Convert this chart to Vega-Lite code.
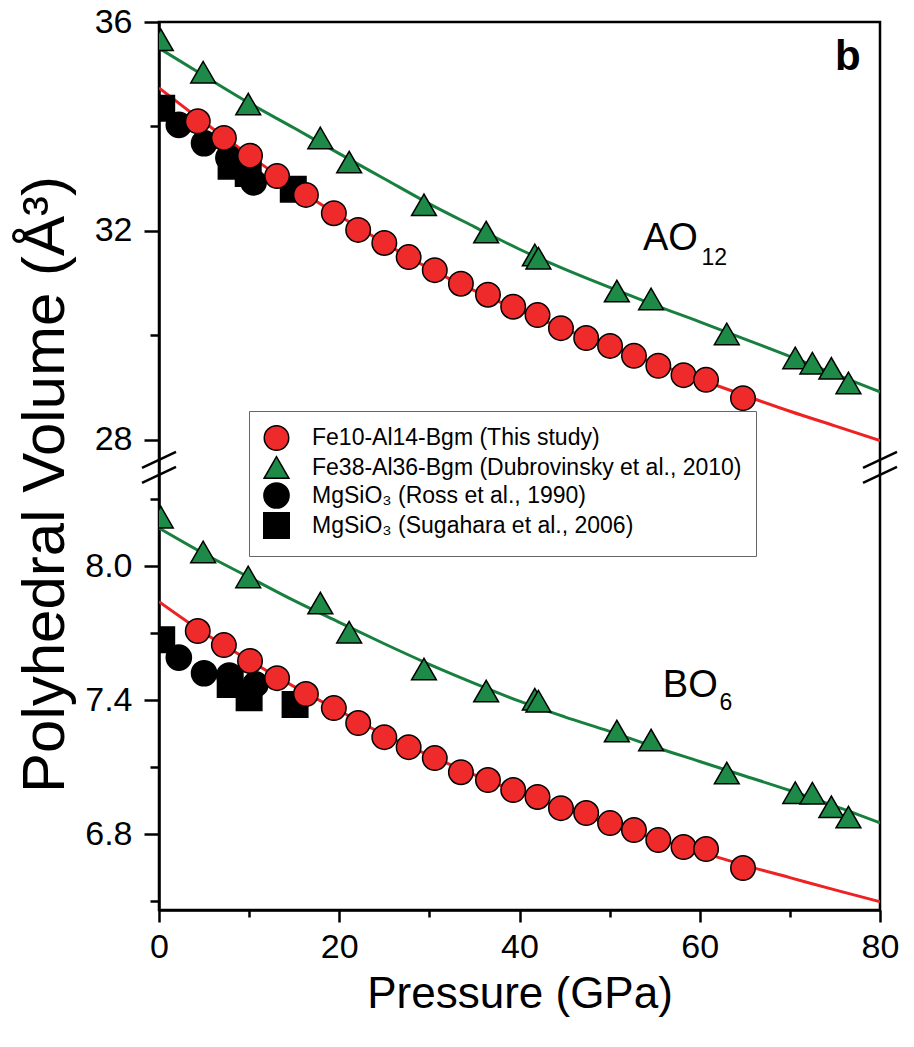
{
  "$schema": "https://vega.github.io/schema/vega-lite/v6.json",
  "width": 721,
  "height": 888,
  "autosize": {"type": "none"},
  "padding": {"left": 159, "top": 22, "right": 34, "bottom": 137},
  "background": "white",
  "config": {
    "font": "Liberation Sans",
    "view": {"stroke": "black", "strokeWidth": 2.5},
    "axis": {"domainColor": "black", "domainWidth": 2.5, "tickColor": "black", "tickWidth": 2.5, "labelColor": "black", "titleColor": "black", "labelFont": "Liberation Sans", "titleFont": "Liberation Sans", "grid": false, "titleFontWeight": "normal", "labelFlush": false},
    "legend": {"title": null, "orient": "none", "legendX": 90, "legendY": 389, "padding": 14, "strokeColor": "#666666", "fillColor": "white", "labelFontSize": 23, "labelFont": "Liberation Sans", "labelColor": "black", "labelOffset": 22, "rowPadding": -3, "symbolStrokeColor": "black", "symbolStrokeWidth": 1.5, "labelLimit": 600}
  },
  "datasets": {
    "points": [
      {"s": "MgSiO₃ (Ross et al., 1990)", "P": 2.2, "V": 34.03},
      {"s": "MgSiO₃ (Ross et al., 1990)", "P": 5.0, "V": 33.68},
      {"s": "MgSiO₃ (Ross et al., 1990)", "P": 7.7, "V": 33.40},
      {"s": "MgSiO₃ (Ross et al., 1990)", "P": 10.5, "V": 32.93},
      {"s": "MgSiO₃ (Ross et al., 1990)", "P": 2.2, "V": 7.59},
      {"s": "MgSiO₃ (Ross et al., 1990)", "P": 5.0, "V": 7.52},
      {"s": "MgSiO₃ (Ross et al., 1990)", "P": 7.8, "V": 7.51},
      {"s": "MgSiO₃ (Ross et al., 1990)", "P": 10.7, "V": 7.47},
      {"s": "MgSiO₃ (Sugahara et al., 2006)", "P": 0.3, "V": 34.35},
      {"s": "MgSiO₃ (Sugahara et al., 2006)", "P": 8.0, "V": 33.24},
      {"s": "MgSiO₃ (Sugahara et al., 2006)", "P": 9.9, "V": 33.10},
      {"s": "MgSiO₃ (Sugahara et al., 2006)", "P": 14.9, "V": 32.80},
      {"s": "MgSiO₃ (Sugahara et al., 2006)", "P": 0.3, "V": 7.67},
      {"s": "MgSiO₃ (Sugahara et al., 2006)", "P": 7.9, "V": 7.47},
      {"s": "MgSiO₃ (Sugahara et al., 2006)", "P": 10.0, "V": 7.41},
      {"s": "MgSiO₃ (Sugahara et al., 2006)", "P": 15.1, "V": 7.38},
      {"s": "Fe38-Al36-Bgm (Dubrovinsky et al., 2010)", "P": 0.2, "V": 35.66},
      {"s": "Fe38-Al36-Bgm (Dubrovinsky et al., 2010)", "P": 4.9, "V": 35.04},
      {"s": "Fe38-Al36-Bgm (Dubrovinsky et al., 2010)", "P": 9.9, "V": 34.43},
      {"s": "Fe38-Al36-Bgm (Dubrovinsky et al., 2010)", "P": 17.9, "V": 33.78},
      {"s": "Fe38-Al36-Bgm (Dubrovinsky et al., 2010)", "P": 21.1, "V": 33.32},
      {"s": "Fe38-Al36-Bgm (Dubrovinsky et al., 2010)", "P": 29.4, "V": 32.50},
      {"s": "Fe38-Al36-Bgm (Dubrovinsky et al., 2010)", "P": 36.3, "V": 31.98},
      {"s": "Fe38-Al36-Bgm (Dubrovinsky et al., 2010)", "P": 41.7, "V": 31.54},
      {"s": "Fe38-Al36-Bgm (Dubrovinsky et al., 2010)", "P": 42.1, "V": 31.48},
      {"s": "Fe38-Al36-Bgm (Dubrovinsky et al., 2010)", "P": 50.8, "V": 30.85},
      {"s": "Fe38-Al36-Bgm (Dubrovinsky et al., 2010)", "P": 54.6, "V": 30.70},
      {"s": "Fe38-Al36-Bgm (Dubrovinsky et al., 2010)", "P": 63.0, "V": 30.03},
      {"s": "Fe38-Al36-Bgm (Dubrovinsky et al., 2010)", "P": 70.6, "V": 29.57},
      {"s": "Fe38-Al36-Bgm (Dubrovinsky et al., 2010)", "P": 72.5, "V": 29.47},
      {"s": "Fe38-Al36-Bgm (Dubrovinsky et al., 2010)", "P": 74.6, "V": 29.37},
      {"s": "Fe38-Al36-Bgm (Dubrovinsky et al., 2010)", "P": 76.5, "V": 29.09},
      {"s": "Fe38-Al36-Bgm (Dubrovinsky et al., 2010)", "P": 0.2, "V": 8.219},
      {"s": "Fe38-Al36-Bgm (Dubrovinsky et al., 2010)", "P": 4.9, "V": 8.063},
      {"s": "Fe38-Al36-Bgm (Dubrovinsky et al., 2010)", "P": 9.9, "V": 7.951},
      {"s": "Fe38-Al36-Bgm (Dubrovinsky et al., 2010)", "P": 17.9, "V": 7.834},
      {"s": "Fe38-Al36-Bgm (Dubrovinsky et al., 2010)", "P": 21.1, "V": 7.704},
      {"s": "Fe38-Al36-Bgm (Dubrovinsky et al., 2010)", "P": 29.4, "V": 7.539},
      {"s": "Fe38-Al36-Bgm (Dubrovinsky et al., 2010)", "P": 36.3, "V": 7.440},
      {"s": "Fe38-Al36-Bgm (Dubrovinsky et al., 2010)", "P": 41.7, "V": 7.404},
      {"s": "Fe38-Al36-Bgm (Dubrovinsky et al., 2010)", "P": 42.1, "V": 7.395},
      {"s": "Fe38-Al36-Bgm (Dubrovinsky et al., 2010)", "P": 50.8, "V": 7.261},
      {"s": "Fe38-Al36-Bgm (Dubrovinsky et al., 2010)", "P": 54.6, "V": 7.221},
      {"s": "Fe38-Al36-Bgm (Dubrovinsky et al., 2010)", "P": 63.0, "V": 7.073},
      {"s": "Fe38-Al36-Bgm (Dubrovinsky et al., 2010)", "P": 70.6, "V": 6.985},
      {"s": "Fe38-Al36-Bgm (Dubrovinsky et al., 2010)", "P": 72.5, "V": 6.983},
      {"s": "Fe38-Al36-Bgm (Dubrovinsky et al., 2010)", "P": 74.6, "V": 6.922},
      {"s": "Fe38-Al36-Bgm (Dubrovinsky et al., 2010)", "P": 76.5, "V": 6.876},
      {"s": "Fe10-Al14-Bgm (This study)", "P": 4.3, "V": 34.10},
      {"s": "Fe10-Al14-Bgm (This study)", "P": 7.2, "V": 33.78},
      {"s": "Fe10-Al14-Bgm (This study)", "P": 10.1, "V": 33.44},
      {"s": "Fe10-Al14-Bgm (This study)", "P": 13.1, "V": 33.05},
      {"s": "Fe10-Al14-Bgm (This study)", "P": 16.3, "V": 32.69},
      {"s": "Fe10-Al14-Bgm (This study)", "P": 19.4, "V": 32.34},
      {"s": "Fe10-Al14-Bgm (This study)", "P": 22.1, "V": 32.02},
      {"s": "Fe10-Al14-Bgm (This study)", "P": 25.0, "V": 31.77},
      {"s": "Fe10-Al14-Bgm (This study)", "P": 27.7, "V": 31.50},
      {"s": "Fe10-Al14-Bgm (This study)", "P": 30.6, "V": 31.25},
      {"s": "Fe10-Al14-Bgm (This study)", "P": 33.5, "V": 30.99},
      {"s": "Fe10-Al14-Bgm (This study)", "P": 36.5, "V": 30.78},
      {"s": "Fe10-Al14-Bgm (This study)", "P": 39.3, "V": 30.55},
      {"s": "Fe10-Al14-Bgm (This study)", "P": 42.0, "V": 30.39},
      {"s": "Fe10-Al14-Bgm (This study)", "P": 44.6, "V": 30.14},
      {"s": "Fe10-Al14-Bgm (This study)", "P": 47.4, "V": 29.95},
      {"s": "Fe10-Al14-Bgm (This study)", "P": 50.05, "V": 29.80},
      {"s": "Fe10-Al14-Bgm (This study)", "P": 52.7, "V": 29.61},
      {"s": "Fe10-Al14-Bgm (This study)", "P": 55.4, "V": 29.42},
      {"s": "Fe10-Al14-Bgm (This study)", "P": 58.2, "V": 29.24},
      {"s": "Fe10-Al14-Bgm (This study)", "P": 60.7, "V": 29.15},
      {"s": "Fe10-Al14-Bgm (This study)", "P": 64.8, "V": 28.80},
      {"s": "Fe10-Al14-Bgm (This study)", "P": 4.3, "V": 7.709},
      {"s": "Fe10-Al14-Bgm (This study)", "P": 7.2, "V": 7.646},
      {"s": "Fe10-Al14-Bgm (This study)", "P": 10.1, "V": 7.575},
      {"s": "Fe10-Al14-Bgm (This study)", "P": 13.1, "V": 7.498},
      {"s": "Fe10-Al14-Bgm (This study)", "P": 16.3, "V": 7.427},
      {"s": "Fe10-Al14-Bgm (This study)", "P": 19.4, "V": 7.364},
      {"s": "Fe10-Al14-Bgm (This study)", "P": 22.1, "V": 7.297},
      {"s": "Fe10-Al14-Bgm (This study)", "P": 25.0, "V": 7.234},
      {"s": "Fe10-Al14-Bgm (This study)", "P": 27.7, "V": 7.189},
      {"s": "Fe10-Al14-Bgm (This study)", "P": 30.6, "V": 7.140},
      {"s": "Fe10-Al14-Bgm (This study)", "P": 33.5, "V": 7.077},
      {"s": "Fe10-Al14-Bgm (This study)", "P": 36.5, "V": 7.042},
      {"s": "Fe10-Al14-Bgm (This study)", "P": 39.3, "V": 6.997},
      {"s": "Fe10-Al14-Bgm (This study)", "P": 42.0, "V": 6.966},
      {"s": "Fe10-Al14-Bgm (This study)", "P": 44.6, "V": 6.916},
      {"s": "Fe10-Al14-Bgm (This study)", "P": 47.4, "V": 6.894},
      {"s": "Fe10-Al14-Bgm (This study)", "P": 50.05, "V": 6.849},
      {"s": "Fe10-Al14-Bgm (This study)", "P": 52.7, "V": 6.818},
      {"s": "Fe10-Al14-Bgm (This study)", "P": 55.4, "V": 6.773},
      {"s": "Fe10-Al14-Bgm (This study)", "P": 58.2, "V": 6.742},
      {"s": "Fe10-Al14-Bgm (This study)", "P": 60.7, "V": 6.733},
      {"s": "Fe10-Al14-Bgm (This study)", "P": 64.8, "V": 6.648}
    ],
    "fits": [
      {"fit": "Fe10-Al14", "panel": "top", "P": 0, "V": 34.74},
      {"fit": "Fe10-Al14", "panel": "top", "P": 5, "V": 34.08},
      {"fit": "Fe10-Al14", "panel": "top", "P": 10, "V": 33.45},
      {"fit": "Fe10-Al14", "panel": "top", "P": 15, "V": 32.84},
      {"fit": "Fe10-Al14", "panel": "top", "P": 20, "V": 32.29},
      {"fit": "Fe10-Al14", "panel": "top", "P": 25, "V": 31.77},
      {"fit": "Fe10-Al14", "panel": "top", "P": 30, "V": 31.28},
      {"fit": "Fe10-Al14", "panel": "top", "P": 35, "V": 30.86},
      {"fit": "Fe10-Al14", "panel": "top", "P": 40, "V": 30.48},
      {"fit": "Fe10-Al14", "panel": "top", "P": 45, "V": 30.12},
      {"fit": "Fe10-Al14", "panel": "top", "P": 50, "V": 29.79},
      {"fit": "Fe10-Al14", "panel": "top", "P": 55, "V": 29.47},
      {"fit": "Fe10-Al14", "panel": "top", "P": 60, "V": 29.16},
      {"fit": "Fe10-Al14", "panel": "top", "P": 65, "V": 28.85},
      {"fit": "Fe10-Al14", "panel": "top", "P": 70, "V": 28.55},
      {"fit": "Fe10-Al14", "panel": "top", "P": 75, "V": 28.27},
      {"fit": "Fe10-Al14", "panel": "top", "P": 80, "V": 27.99},
      {"fit": "Fe38-Al36", "panel": "top", "P": 0, "V": 35.50},
      {"fit": "Fe38-Al36", "panel": "top", "P": 5, "V": 34.97},
      {"fit": "Fe38-Al36", "panel": "top", "P": 10, "V": 34.45},
      {"fit": "Fe38-Al36", "panel": "top", "P": 15, "V": 33.97},
      {"fit": "Fe38-Al36", "panel": "top", "P": 20, "V": 33.48},
      {"fit": "Fe38-Al36", "panel": "top", "P": 25, "V": 33.00},
      {"fit": "Fe38-Al36", "panel": "top", "P": 30, "V": 32.52},
      {"fit": "Fe38-Al36", "panel": "top", "P": 35, "V": 32.08},
      {"fit": "Fe38-Al36", "panel": "top", "P": 40, "V": 31.65},
      {"fit": "Fe38-Al36", "panel": "top", "P": 45, "V": 31.27},
      {"fit": "Fe38-Al36", "panel": "top", "P": 50, "V": 30.92},
      {"fit": "Fe38-Al36", "panel": "top", "P": 55, "V": 30.58},
      {"fit": "Fe38-Al36", "panel": "top", "P": 60, "V": 30.26},
      {"fit": "Fe38-Al36", "panel": "top", "P": 65, "V": 29.93},
      {"fit": "Fe38-Al36", "panel": "top", "P": 70, "V": 29.60},
      {"fit": "Fe38-Al36", "panel": "top", "P": 75, "V": 29.26},
      {"fit": "Fe38-Al36", "panel": "top", "P": 80, "V": 28.92},
      {"fit": "Fe10-Al14", "panel": "bottom", "P": 0, "V": 7.84},
      {"fit": "Fe10-Al14", "panel": "bottom", "P": 5, "V": 7.70},
      {"fit": "Fe10-Al14", "panel": "bottom", "P": 10, "V": 7.578},
      {"fit": "Fe10-Al14", "panel": "bottom", "P": 15, "V": 7.46},
      {"fit": "Fe10-Al14", "panel": "bottom", "P": 20, "V": 7.352},
      {"fit": "Fe10-Al14", "panel": "bottom", "P": 25, "V": 7.245},
      {"fit": "Fe10-Al14", "panel": "bottom", "P": 30, "V": 7.152},
      {"fit": "Fe10-Al14", "panel": "bottom", "P": 35, "V": 7.065},
      {"fit": "Fe10-Al14", "panel": "bottom", "P": 40, "V": 6.985},
      {"fit": "Fe10-Al14", "panel": "bottom", "P": 45, "V": 6.912},
      {"fit": "Fe10-Al14", "panel": "bottom", "P": 50, "V": 6.845},
      {"fit": "Fe10-Al14", "panel": "bottom", "P": 55, "V": 6.78},
      {"fit": "Fe10-Al14", "panel": "bottom", "P": 60, "V": 6.72},
      {"fit": "Fe10-Al14", "panel": "bottom", "P": 65, "V": 6.66},
      {"fit": "Fe10-Al14", "panel": "bottom", "P": 70, "V": 6.605},
      {"fit": "Fe10-Al14", "panel": "bottom", "P": 75, "V": 6.55},
      {"fit": "Fe10-Al14", "panel": "bottom", "P": 80, "V": 6.497},
      {"fit": "Fe38-Al36", "panel": "bottom", "P": 0, "V": 8.17},
      {"fit": "Fe38-Al36", "panel": "bottom", "P": 5, "V": 8.055},
      {"fit": "Fe38-Al36", "panel": "bottom", "P": 10, "V": 7.95},
      {"fit": "Fe38-Al36", "panel": "bottom", "P": 15, "V": 7.845},
      {"fit": "Fe38-Al36", "panel": "bottom", "P": 20, "V": 7.748},
      {"fit": "Fe38-Al36", "panel": "bottom", "P": 25, "V": 7.652},
      {"fit": "Fe38-Al36", "panel": "bottom", "P": 30, "V": 7.56},
      {"fit": "Fe38-Al36", "panel": "bottom", "P": 35, "V": 7.475},
      {"fit": "Fe38-Al36", "panel": "bottom", "P": 40, "V": 7.395},
      {"fit": "Fe38-Al36", "panel": "bottom", "P": 45, "V": 7.325},
      {"fit": "Fe38-Al36", "panel": "bottom", "P": 50, "V": 7.26},
      {"fit": "Fe38-Al36", "panel": "bottom", "P": 55, "V": 7.19},
      {"fit": "Fe38-Al36", "panel": "bottom", "P": 60, "V": 7.125},
      {"fit": "Fe38-Al36", "panel": "bottom", "P": 65, "V": 7.06},
      {"fit": "Fe38-Al36", "panel": "bottom", "P": 70, "V": 6.995},
      {"fit": "Fe38-Al36", "panel": "bottom", "P": 75, "V": 6.925},
      {"fit": "Fe38-Al36", "panel": "bottom", "P": 80, "V": 6.85}
    ],
    "breaks": [{"P": 0, "V": 16}, {"P": 80, "V": 16}],
    "labels": [{"t": "AO", "P": 53.7, "V": 31.64}, {"t": "BO", "P": 55.9, "V": 7.413}],
    "subs": [{"t": "12", "P": 60.2, "V": 31.35}, {"t": "6", "P": 62.2, "V": 7.355}],
    "panel": [{"t": "b", "P": 75.0, "V": 35.08}]
  },
  "layer": [
    {
      "data": {"name": "fits"},
      "mark": {"type": "line", "strokeWidth": 3, "interpolate": "monotone", "clip": true},
      "encoding": {
        "x": {"field": "P", "type": "quantitative", "scale": {"domain": [0, 80], "nice": false, "zero": false},
          "axis": {"values": [0, 10, 20, 30, 40, 50, 60, 70, 80], "labelExpr": "datum.value % 20 == 0 ? datum.label : ''",
            "tickSize": {"condition": {"test": "datum.value % 20 == 0", "value": 12}, "value": 7},
            "labelFlush": false, "labelFontSize": 34, "labelPadding": 8, "title": "Pressure (GPa)", "titleFontSize": 44, "titlePadding": 8}},
        "y": {"field": "V", "type": "quantitative", "scale": {"domain": [6.46, 8.4, 27.75, 36], "range": [888, 454.7, 431, 0], "nice": false, "zero": false},
          "axis": {"values": [6.5, 6.8, 7.1, 7.4, 7.7, 8.0, 8.3, 28, 30, 32, 34, 36],
            "labelExpr": "indexof([6.8, 7.4, 8, 28, 32, 36], datum.value) < 0 ? '' : (datum.value >= 20 ? format(datum.value, 'd') : format(datum.value, '.1f'))",
            "tickSize": {"condition": {"test": "indexof([6.8, 7.4, 8, 28, 32, 36], datum.value) >= 0", "value": 15}, "value": 9},
            "labelFlush": false, "labelFontSize": 34, "labelPadding": 12, "title": "Polyhedral Volume (Å³)", "titleFontSize": 60, "titlePadding": 8, "titleY": 462}},
        "color": {"field": "fit", "type": "nominal", "scale": {"domain": ["Fe10-Al14", "Fe38-Al36"], "range": ["#ee2222", "#18803f"]}, "legend": null},
        "detail": {"field": "panel", "type": "nominal"}
      }
    },
    {
      "data": {"name": "points"},
      "mark": {"type": "point", "filled": true, "strokeWidth": 1.5, "opacity": 1, "clip": true},
      "encoding": {
        "x": {"field": "P", "type": "quantitative", "scale": {"domain": [0, 80], "nice": false, "zero": false}},
        "y": {"field": "V", "type": "quantitative", "scale": {"domain": [6.46, 8.4, 27.75, 36], "range": [888, 454.7, 431, 0], "nice": false, "zero": false}},
        "fill": {"field": "s", "type": "nominal",
          "scale": {"domain": ["Fe10-Al14-Bgm (This study)", "Fe38-Al36-Bgm (Dubrovinsky et al., 2010)", "MgSiO₃ (Ross et al., 1990)", "MgSiO₃ (Sugahara et al., 2006)"], "range": ["#ee2a2a", "#1d8a47", "#000000", "#000000"]}},
        "stroke": {"field": "s", "type": "nominal",
          "scale": {"domain": ["Fe10-Al14-Bgm (This study)", "Fe38-Al36-Bgm (Dubrovinsky et al., 2010)", "MgSiO₃ (Ross et al., 1990)", "MgSiO₃ (Sugahara et al., 2006)"], "range": ["#000000", "#000000", "#000000", "#000000"]}},
        "shape": {"field": "s", "type": "nominal",
          "scale": {"domain": ["Fe10-Al14-Bgm (This study)", "Fe38-Al36-Bgm (Dubrovinsky et al., 2010)", "MgSiO₃ (Ross et al., 1990)", "MgSiO₃ (Sugahara et al., 2006)"], "range": ["circle", "triangle-up", "circle", "square"]}},
        "size": {"field": "s", "type": "nominal",
          "scale": {"domain": ["Fe10-Al14-Bgm (This study)", "Fe38-Al36-Bgm (Dubrovinsky et al., 2010)", "MgSiO₃ (Ross et al., 1990)", "MgSiO₃ (Sugahara et al., 2006)"], "range": [600, 650, 560, 380]}}
      }
    },
    {
      "data": {"name": "breaks"},
      "mark": {"type": "point", "shape": "M-1,0.03L1,-0.91M-1,0.91L1,-0.03", "size": 1156, "filled": false, "stroke": "black", "strokeWidth": 2.5, "opacity": 1, "clip": false},
      "encoding": {
        "x": {"field": "P", "type": "quantitative", "scale": {"domain": [0, 80], "nice": false, "zero": false}},
        "y": {"field": "V", "type": "quantitative", "scale": {"domain": [6.46, 8.4, 27.75, 36], "range": [888, 454.7, 431, 0], "nice": false, "zero": false}}
      }
    },
    {
      "data": {"name": "labels"},
      "mark": {"type": "text", "fontSize": 38, "align": "left", "baseline": "alphabetic", "color": "black", "font": "Liberation Sans"},
      "encoding": {
        "x": {"field": "P", "type": "quantitative", "scale": {"domain": [0, 80], "nice": false, "zero": false}},
        "y": {"field": "V", "type": "quantitative", "scale": {"domain": [6.46, 8.4, 27.75, 36], "range": [888, 454.7, 431, 0], "nice": false, "zero": false}},
        "text": {"field": "t"}
      }
    },
    {
      "data": {"name": "subs"},
      "mark": {"type": "text", "fontSize": 23, "align": "left", "baseline": "alphabetic", "color": "black", "font": "Liberation Sans"},
      "encoding": {
        "x": {"field": "P", "type": "quantitative", "scale": {"domain": [0, 80], "nice": false, "zero": false}},
        "y": {"field": "V", "type": "quantitative", "scale": {"domain": [6.46, 8.4, 27.75, 36], "range": [888, 454.7, 431, 0], "nice": false, "zero": false}},
        "text": {"field": "t"}
      }
    },
    {
      "data": {"name": "panel"},
      "mark": {"type": "text", "fontSize": 42, "fontWeight": "bold", "align": "left", "baseline": "alphabetic", "color": "black", "font": "Liberation Sans"},
      "encoding": {
        "x": {"field": "P", "type": "quantitative", "scale": {"domain": [0, 80], "nice": false, "zero": false}},
        "y": {"field": "V", "type": "quantitative", "scale": {"domain": [6.46, 8.4, 27.75, 36], "range": [888, 454.7, 431, 0], "nice": false, "zero": false}},
        "text": {"field": "t"}
      }
    }
  ]
}
